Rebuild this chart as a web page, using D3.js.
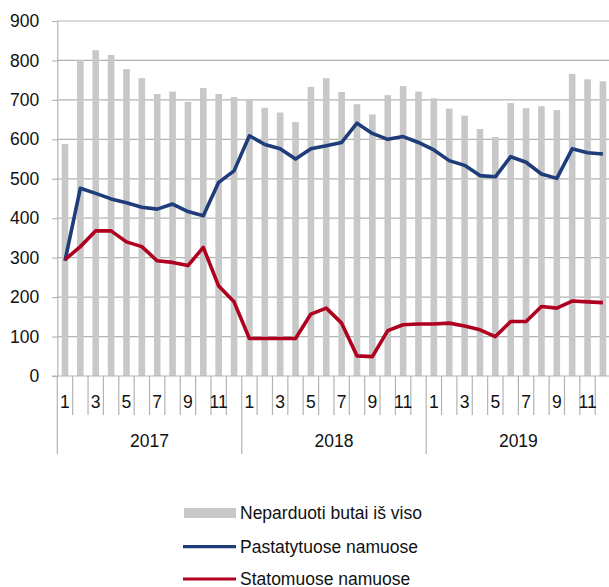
<!DOCTYPE html>
<html><head><meta charset="utf-8">
<script src="https://cdn.jsdelivr.net/npm/d3@7"></script>
<style>body{margin:0;background:#fff}svg{display:block}text{font-family:"Liberation Sans",Arial,sans-serif;fill:#111}</style>
</head><body><svg id="c" width="609" height="587"></svg>
<script>
const years = ["2017","2018","2019"];
const monthLabels = ["1","","3","","5","","7","","9","","11",""];
const yTicks = [0,100,200,300,400,500,600,700,800,900];
const seriesNames = ["Neparduoti butai iš viso","Pastatytuose namuose","Statomuose namuose"];
const total = [588,801,826,814,778,755,715,721,695,730,715,707,
               701,680,668,644,733,755,720,689,663,712,735,721,
               704,678,660,626,606,692,679,684,674,766,752,747];
const built = [292,476,463,449,439,428,423,436,417,406,491,520,
               609,587,576,550,576,584,592,641,615,600,607,592,
               573,546,534,508,505,556,542,512,501,576,566,563];
const building = [295,328,368,368,340,328,292,288,280,326,228,188,
                  95,95,95,95,157,172,134,51,49,115,130,132,
                  132,134,127,117,100,138,138,176,172,190,188,186];

const periods = [];
years.forEach(yr => monthLabels.forEach((m,i) => periods.push({year:yr, month:i+1, label:m})));
const keys = periods.map((p,i)=>i);

const svg = d3.select("#c");
const pLeft = 57.3, pRight = 610.6, pTop = 21, pBottom = 376;
const x = d3.scaleBand().domain(keys).range([pLeft,pRight]).padding(0);
const y = d3.scaleLinear().domain([0,900]).range([pBottom,pTop]);
const bw = x.bandwidth();
const gridColor = "#b3b3b3";

// y axis + gridlines
const yAxis = d3.axisLeft(y).tickValues(yTicks).tickSize(5).tickPadding(13);
const gy = svg.append("g").attr("transform",`translate(${pLeft},0)`).call(yAxis);
gy.select(".domain").attr("stroke",gridColor).attr("stroke-width",1.2);
gy.selectAll(".tick line").attr("stroke",gridColor).attr("stroke-width",1.2);
gy.selectAll(".tick text").style("font-size","17.5px").attr("fill","#111").attr("font-family",null);
svg.append("g").selectAll("line").data(yTicks.filter(d=>d>0)).join("line")
  .attr("x1",pLeft).attr("x2",609).attr("y1",d=>y(d)).attr("y2",d=>y(d))
  .attr("stroke",gridColor).attr("stroke-width",1.2);

// bars
svg.append("g").selectAll("rect").data(total).join("rect")
  .attr("x",(d,i)=>x(i)+bw/2-3.3).attr("width",6.6)
  .attr("y",d=>y(d)).attr("height",d=>y(0)-y(d)).attr("fill","#c8c8c8");

// x axis baseline
svg.append("line").attr("x1",pLeft-5).attr("x2",609).attr("y1",pBottom).attr("y2",pBottom)
  .attr("stroke",gridColor).attr("stroke-width",1.2);
// month ticks
const gx = svg.append("g");
keys.forEach(i => {
  const isYear = periods[i].month===1;
  gx.append("line").attr("x1",x(i)).attr("x2",x(i)).attr("y1",pBottom)
    .attr("y2", isYear ? 454 : 415).attr("stroke",gridColor).attr("stroke-width",1.2);
});
gx.selectAll("text.m").data(periods).join("text").attr("class","m")
  .attr("x",(d,i)=>x(i)+bw/2).attr("y",402).attr("dy","0.35em")
  .attr("text-anchor","middle").style("font-size","17.5px").text(d=>d.label);
const yearScale = d3.scaleBand().domain(years).range([pLeft,pRight]);
gx.selectAll("text.y").data(years).join("text").attr("class","y")
  .attr("x",d=>yearScale(d)+yearScale.bandwidth()/2).attr("y",441).attr("dy","0.35em")
  .attr("text-anchor","middle").style("font-size","17.5px").text(d=>d);

// lines
const line = d3.line().x((d,i)=>x(i)+bw/2).y(d=>y(d));
svg.append("path").datum(built).attr("d",line).attr("fill","none")
  .attr("stroke","#1f3d7a").attr("stroke-width",3.6).attr("stroke-linejoin","round");
svg.append("path").datum(building).attr("d",line).attr("fill","none")
  .attr("stroke","#b00020").attr("stroke-width",3.6).attr("stroke-linejoin","round");

// legend
const lg = svg.append("g");
const ly = [513, 546.7, 579];
lg.append("rect").attr("x",184).attr("y",ly[0]-5).attr("width",52).attr("height",10).attr("fill","#c8c8c8");
lg.append("line").attr("x1",183).attr("x2",236).attr("y1",ly[1]).attr("y2",ly[1]).attr("stroke","#1f3d7a").attr("stroke-width",3.2);
lg.append("line").attr("x1",183).attr("x2",236).attr("y1",ly[2]).attr("y2",ly[2]).attr("stroke","#b00020").attr("stroke-width",3.2);
lg.selectAll("text").data(seriesNames).join("text")
  .attr("x",240).attr("y",(d,i)=>ly[i]).attr("dy","0.35em")
  .style("font-size","17.5px").text(d=>d);
</script></body></html>
